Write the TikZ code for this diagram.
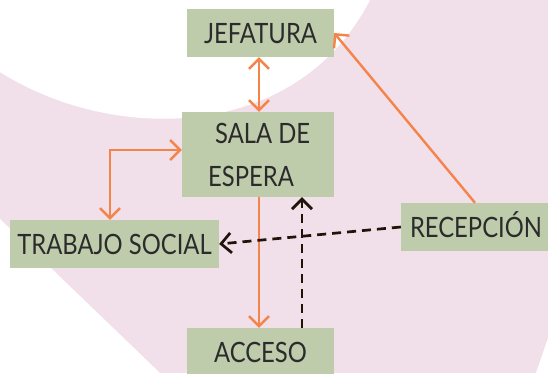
\documentclass[tikz,border=0pt]{standalone}
\usepackage{fontspec}
\setmainfont[FakeStretch=0.85]{Lato}
\usetikzlibrary{arrows.meta}
\definecolor{bgpink}{HTML}{F1DFEA}
\definecolor{boxgreen}{HTML}{BECCAC}
\definecolor{arrorange}{HTML}{F5844A}
\definecolor{darkline}{HTML}{1E1408}
\definecolor{txtgray}{HTML}{2B2B2B}
\tikzset{
  box/.style={fill=boxgreen, draw=none, inner sep=0pt, text=txtgray,
    font=\fontsize{28}{30}\selectfont, text height=20pt, text depth=0pt},
  lbl/.style={inner sep=0pt, text=txtgray, font=\fontsize{28}{30}\selectfont},
  oarr/.style={draw=arrorange, line width=2.4pt,
    arrows={Straight Barb[length=10pt,width=20pt]-Straight Barb[length=10pt,width=20pt]}},
  oone/.style={draw=arrorange, line width=2.4pt,
    arrows={-Straight Barb[length=10pt,width=20pt]}},
  darr/.style={draw=darkline, line width=2.7pt, dash pattern=on 9pt off 6pt,
    arrows={-Straight Barb[length=10pt,width=20pt]}}
}
\begin{document}
\begin{tikzpicture}[x=1pt,y=-1pt]
\useasboundingbox (0,0) rectangle (548,373);
% background
\fill[bgpink] (0,0) rectangle (548,373);
\fill[white] (0,0) -- (0,72) .. controls (110,142) and (295,145) .. (370,0) -- cycle;
\fill[white] (0,219) -- (160,373) -- (0,373) -- cycle;
\fill[white] (536,373) -- (548,338) -- (548,373) -- cycle;
% boxes
\node[box, minimum width=147pt, minimum height=48pt] (jef) at (260.5,33) {JEFATURA};
\node[box, minimum width=152pt, minimum height=85pt] (sala) at (258,154.5) {};
\node[lbl, anchor=base west] (sala1) at (215,143) {SALA DE};
\node[lbl, anchor=base west] (sala2) at (208,186) {ESPERA};
\node[box, minimum width=209pt, minimum height=48pt] (trab) at (114.5,244) {TRABAJO SOCIAL};
\node[box, minimum width=150pt, minimum height=48pt] (rec) at (476,227) {RECEPCIÓN};
\node[box, minimum width=147pt, minimum height=48pt] (acc) at (260.5,352) {ACCESO};
% helper coordinates
\coordinate (e1) at (110,150);
\coordinate (d1) at (302,0);
\coordinate (v1) at (259,0);
\coordinate (r1) at (475,0);
% connectors
\draw[oarr] (jef.south -| v1) -- (sala.north -| v1);
\draw[oarr] (trab.north -| e1) -- (e1) -- (e1 -| sala.west);
\draw[oone] (sala.south -| v1) -- (acc.north -| v1);
\draw[oone] (rec.north -| r1) -- (jef.east);
\draw[darr] (rec.west) -- (trab.east);
\draw[darr] (acc.north -| d1) -- (sala.south -| d1);
\end{tikzpicture}
\end{document}
